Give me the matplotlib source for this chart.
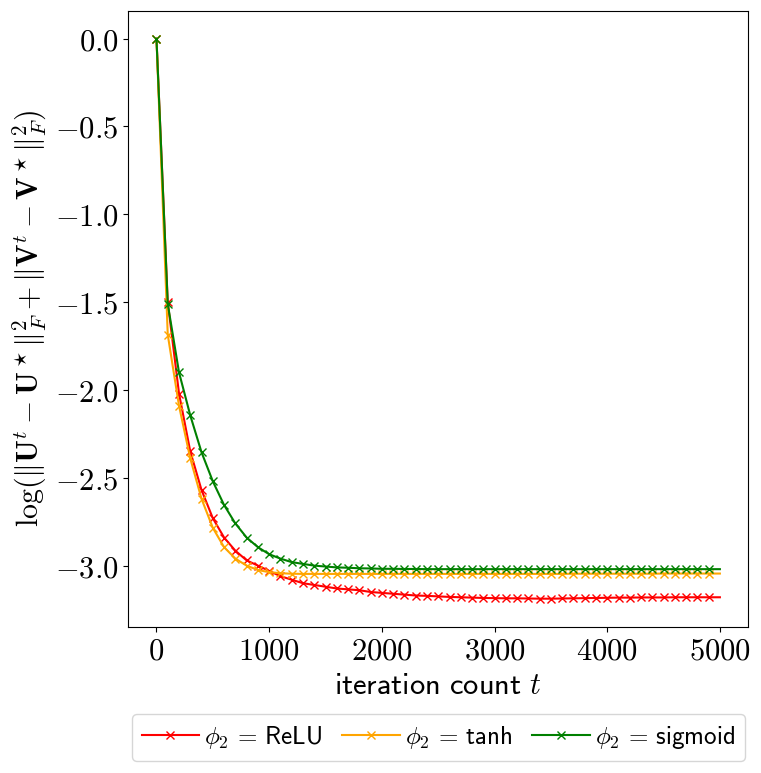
import numpy as np
import matplotlib
matplotlib.use("Agg")
import matplotlib.pyplot as plt
from matplotlib.ticker import FuncFormatter, MultipleLocator

plt.rcParams['mathtext.fontset'] = 'cm'

# iterations where markers are drawn (every 100), plus the last iteration
iters = list(range(0, 5000, 100)) + [4999]

relu = [0.0, -1.50, -2.02, -2.35, -2.57, -2.73, -2.84, -2.915, -2.97, -3.00,
        -3.03, -3.06, -3.08, -3.10, -3.11, -3.12, -3.13, -3.135, -3.14, -3.15,
        -3.155, -3.16, -3.165, -3.17, -3.172, -3.175, -3.178, -3.18, -3.182, -3.184,
        -3.185, -3.186, -3.186, -3.187, -3.188, -3.188, -3.187, -3.186, -3.185, -3.184,
        -3.183, -3.182, -3.182, -3.181, -3.181, -3.181, -3.18, -3.18, -3.18, -3.18,
        -3.18]
tanh = [0.0, -1.685, -2.09, -2.39, -2.62, -2.785, -2.895, -2.96, -3.00, -3.025,
        -3.037, -3.043, -3.046, -3.047, -3.047, -3.047, -3.047, -3.047, -3.047, -3.047,
        -3.047, -3.047, -3.047, -3.047, -3.047, -3.047, -3.047, -3.047, -3.047, -3.047,
        -3.047, -3.047, -3.047, -3.047, -3.047, -3.047, -3.047, -3.046, -3.046, -3.046,
        -3.046, -3.046, -3.046, -3.046, -3.046, -3.045, -3.045, -3.045, -3.045, -3.045,
        -3.045]
sigmoid = [0.0, -1.51, -1.90, -2.145, -2.355, -2.52, -2.655, -2.76, -2.84, -2.895,
           -2.935, -2.96, -2.98, -2.99, -3.00, -3.005, -3.01, -3.012, -3.015, -3.016,
           -3.018, -3.018, -3.019, -3.019, -3.02, -3.02, -3.02, -3.02, -3.02, -3.02,
           -3.02, -3.02, -3.02, -3.02, -3.02, -3.02, -3.02, -3.02, -3.02, -3.02,
           -3.02, -3.02, -3.02, -3.02, -3.02, -3.02, -3.02, -3.02, -3.02, -3.02,
           -3.02]

labels = [r'$\phi_2 \,=\, \mathsf{ReLU}$', r'$\phi_2 \,=\, \mathsf{tanh}$',
          r'$\phi_2 \,=\, \mathsf{sigmoid}$']
colors = ['red', 'orange', 'green']

fig = plt.figure(figsize=(7.61, 7.73), dpi=100)
ax = fig.add_axes([0.1686, 0.1893, 0.8144, 0.7969])

marks = list(range(len(iters) - 1))
for ys, lab, c in zip([relu, tanh, sigmoid], labels, colors):
    ax.plot(iters, ys, color=c, marker='x', markevery=marks, lw=1.5, label=lab)

ax.xaxis.set_major_locator(MultipleLocator(1000))
ax.yaxis.set_major_locator(MultipleLocator(0.5))
ax.xaxis.set_major_formatter(FuncFormatter(lambda v, p: r'$%d$' % round(v)))
ax.yaxis.set_major_formatter(FuncFormatter(lambda v, p: r'$%.1f$' % v))
ax.tick_params(labelsize=22)

ax.set_xlabel(r'$\mathsf{iteration\ count}\ t$', fontsize=22)
ax.set_ylabel(r'$\log(\Vert\mathbf{U}^t - \mathbf{U}^\star\Vert_F^2 + '
              r'\Vert\mathbf{V}^t - \mathbf{V}^\star\Vert_F^2)$', fontsize=21.5)

ax.legend(loc='upper center', bbox_to_anchor=(0.5, -0.1214), ncol=3,
          fontsize=18, handlelength=2.3, handletextpad=0.2, columnspacing=0.8)

fig.savefig('out.png', dpi=100)
